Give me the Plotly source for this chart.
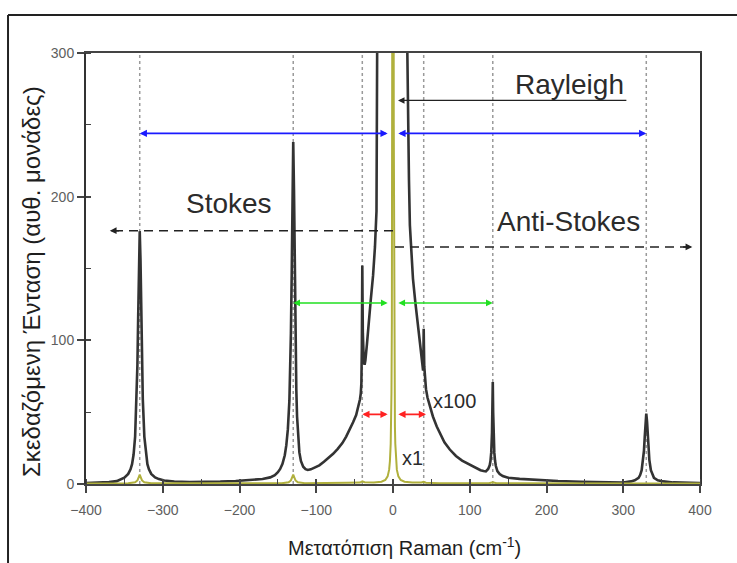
import plotly.graph_objects as go

# Raman spectrum drawn at x100 scale: (shift cm-1, intensity a.u.)
spectrum_x100 = [
    (-400, 0.7), (-385, 0.9), (-370, 1.3), (-360, 2.0), (-355, 3.0), (-350, 4.4),
    (-345, 7.0), (-342, 10.2), (-340, 13.8), (-338, 20.5), (-336, 33), (-334, 59),
    (-333, 83), (-332, 117), (-331, 156), (-330, 176), (-329, 156), (-328, 117),
    (-327, 83), (-326, 59), (-324, 33), (-322, 20.5), (-320, 13.8), (-318, 10.2),
    (-315, 7.0), (-310, 4.6), (-305, 3.4), (-298, 2.4), (-285, 1.7), (-265, 1.4),
    (-245, 1.4), (-225, 1.7), (-205, 2.1), (-185, 2.7), (-170, 3.5), (-160, 4.6),
    (-154, 6.2), (-150, 8.2), (-147, 10.5), (-144, 14), (-141, 20), (-139, 27),
    (-137, 38), (-135, 58), (-134, 76), (-133, 105), (-132, 145), (-131, 205),
    (-130, 238), (-129, 205), (-128, 140), (-127, 95), (-126, 66), (-125, 47),
    (-124, 35), (-122, 22), (-120, 16), (-117, 12), (-114, 10.3), (-111, 9.8),
    (-107, 10.2), (-102, 11.3), (-96, 13), (-90, 15.5), (-84, 18), (-78, 21),
    (-72, 24.5), (-66, 28.5), (-61, 33), (-56, 38), (-52, 43), (-48, 48),
    (-45, 54), (-43, 59), (-42, 63), (-41.2, 70), (-40.6, 95), (-40.3, 125),
    (-40, 152), (-39.7, 130), (-39.3, 105), (-38.8, 92), (-38, 85), (-37, 83),
    (-36, 86), (-34, 97), (-32, 112), (-29, 128), (-26, 145), (-23.5, 165),
    (-21.5, 190), (-20.3, 230), (-19.5, 280), (-19, 320), (-17.5, 420),
    (-15, 600), (-10, 1200), (0, 3000), (10, 1200), (15, 600), (17, 430),
    (18, 360), (18.7, 300), (19.5, 255), (20.8, 212), (22, 180), (24, 158),
    (26, 143), (29, 127), (32, 114), (35, 101), (37, 91), (38.3, 84), (39.2, 79),
    (39.6, 88), (39.8, 100), (40, 108), (40.3, 96), (40.7, 82), (41.5, 73),
    (43, 66), (45, 60), (48, 54), (52, 47), (57, 40), (62, 34), (67, 29),
    (74, 24), (82, 19.5), (90, 16.3), (100, 13.5), (108, 11.2), (114, 9.6),
    (118, 9.0), (121, 8.8), (124, 10.5), (126, 13), (127, 16), (128, 22),
    (129, 36), (129.5, 50), (130, 71), (130.5, 50), (131, 36), (132, 22),
    (133, 16), (134, 12.5), (136, 9), (139, 7), (143, 5.5), (150, 4.4),
    (165, 3.6), (187, 2.8), (215, 2.1), (245, 1.6), (275, 1.2), (300, 1.0),
    (310, 1.8), (315, 2.6), (320, 4.3), (322, 6.2), (324, 9.6), (326, 16.8),
    (327, 23.3), (328, 32.8), (329, 43.5), (330, 49), (331, 43.5), (332, 32.8),
    (333, 23.3), (334, 16.8), (336, 9.6), (338, 6.2), (340, 4.3), (345, 2.6),
    (352, 1.8), (365, 1.1), (380, 0.8), (400, 0.6),
]

# Same spectrum at x1 scale (Rayleigh line dominates)
spectrum_x1 = [
    (-400, 0.4), (-345, 0.5), (-336, 1.2), (-333, 2.5), (-331.5, 4.5), (-330, 6.5),
    (-328.5, 4.5), (-327, 2.5), (-324, 1.2), (-315, 0.5), (-145, 0.5), (-136, 1.2),
    (-133, 2.5), (-131.5, 4.5), (-130, 6.5), (-128.5, 4.5), (-127, 2.5),
    (-124, 1.2), (-115, 0.6), (-60, 0.8), (-43, 1.0), (-40, 1.8), (-37, 1.2),
    (-25, 1.0), (-15, 1.6), (-10, 2.8), (-7, 5.3), (-5, 10), (-4, 16), (-3, 28),
    (-2.5, 40), (-2, 63), (-1.5, 112), (-1.2, 175), (-1, 250), (-0.8, 390),
    (-0.5, 900), (0, 2800), (0.5, 900), (0.8, 390), (1, 250), (1.2, 175),
    (1.5, 112), (2, 63), (2.5, 40), (3, 28), (4, 16), (5, 10), (7, 5.3),
    (10, 2.8), (15, 1.6), (25, 1.0), (37, 1.0), (40, 1.5), (43, 0.9), (60, 0.6),
    (125, 0.5), (130, 1.2), (135, 0.5), (325, 0.4), (330, 0.9), (335, 0.4),
    (400, 0.3),
]

# Raman line positions (cm-1): Stokes (negative) and anti-Stokes (positive)
raman_lines = [-330, -130, -40, 40, 130, 330]

x_ticks = [-400, -300, -200, -100, 0, 100, 200, 300, 400]
y_ticks = [0, 100, 200, 300]
x_range = [-400, 400]
y_range = [0, 300]

FONT = "Liberation Sans, Arial, sans-serif"
TEXT = "#2b2b2b"

x100_x = [p[0] for p in spectrum_x100]
x100_y = [p[1] for p in spectrum_x100]
x1_x = [p[0] for p in spectrum_x1]
x1_y = [p[1] for p in spectrum_x1]

fig = go.Figure()

fig.add_trace(go.Scatter(
    x=x100_x, y=x100_y, mode="lines",
    line=dict(color="#333333", width=2.6), hoverinfo="skip", showlegend=False,
))
fig.add_trace(go.Scatter(
    x=x1_x, y=x1_y, mode="lines",
    line=dict(color="#b0b03c", width=2), hoverinfo="skip", showlegend=False,
))
# companion axes only used for inward tick marks
fig.add_trace(go.Scatter(x=[None], y=[None], xaxis="x2", yaxis="y2",
                         showlegend=False, hoverinfo="skip"))

shapes = []
for pos in raman_lines:
    shapes.append(dict(type="line", xref="x", yref="y", x0=pos, x1=pos,
                       y0=y_range[0], y1=y_range[1], layer="below",
                       line=dict(color="#9a9a9a", width=1.5, dash="dot")))

# dashed Stokes / anti-Stokes guides
stokes_y, anti_y = 176.3, 165
shapes.append(dict(type="line", xref="x", yref="y", x0=0, x1=-362,
                   y0=stokes_y, y1=stokes_y,
                   line=dict(color="#222222", width=1.6, dash="9px,6px")))
shapes.append(dict(type="line", xref="x", yref="y", x0=2.6, x1=383,
                   y0=anti_y, y1=anti_y,
                   line=dict(color="#222222", width=1.6, dash="9px,6px")))

# outer frame (top and left edges)
shapes.append(dict(type="line", xref="paper", yref="paper",
                   x0=-0.127, x1=1.08, y0=1.088, y1=1.088,
                   line=dict(color="#222222", width=2)))
shapes.append(dict(type="line", xref="paper", yref="paper",
                   x0=-0.127, x1=-0.127, y0=-0.2, y1=1.088,
                   line=dict(color="#222222", width=2)))

annotations = []


def arrow(x_head, x_tail, y, color, width, size=1.0, both=False, head=2):
    annotations.append(dict(
        x=x_head, y=y, ax=x_tail, ay=y, xref="x", yref="y", axref="x", ayref="y",
        text="", showarrow=True, arrowhead=head, startarrowhead=head,
        arrowside="end+start" if both else "end",
        arrowsize=size, startarrowsize=size, arrowwidth=width, arrowcolor=color,
    ))


blue_y, green_y, red_y = 244, 126, 48.5
gap = 5
arrow(raman_lines[0], -gap, blue_y, "#1a1aff", 1.8, 0.8, both=True)
arrow(raman_lines[5], gap, blue_y, "#1a1aff", 1.8, 0.8, both=True)
arrow(raman_lines[1], -gap, green_y, "#22e022", 1.5, 0.9, both=True)
arrow(raman_lines[4], gap, green_y, "#22e022", 1.5, 0.9, both=True)
arrow(raman_lines[2], -gap, red_y, "#ff2222", 1.8, 0.8, both=True)
arrow(raman_lines[3] + 3, gap, red_y, "#ff2222", 1.8, 0.8, both=True)

# arrowheads of the dashed guides
arrow(-369, -355, stokes_y, "#222222", 1.5, 0.9)
arrow(390, 376, anti_y, "#222222", 1.5, 0.9)
# Rayleigh pointer
arrow(6.5, 306, 267, "#222222", 1.3, 1.0)

labels = [
    ("Rayleigh", 230.6, 278, 28),
    ("Stokes", -214, 195, 28),
    ("Anti-Stokes", 229, 183, 28),
    ("x100", 79.5, 58, 20),
    ("x1", 26, 18, 20),
]
for txt, lx, ly, fs in labels:
    annotations.append(dict(x=lx, y=ly, xref="x", yref="y", text=txt,
                            xanchor="center", yanchor="middle", showarrow=False,
                            font=dict(family=FONT, size=fs, color=TEXT)))

annotations.append(dict(
    x=0.518, y=-0.146, xref="paper", yref="paper", showarrow=False,
    xanchor="center", yanchor="middle",
    text="Μετατόπιση Raman (cm<sup>-1</sup>)",
    font=dict(family=FONT, size=20, color="#1e1e1e"),
))
annotations.append(dict(
    x=-0.088, y=0.471, xref="paper", yref="paper", showarrow=False, textangle=-90,
    xanchor="center", yanchor="middle",
    text="Σκεδαζόμενη Ένταση (αυθ. μονάδες)",
    font=dict(family=FONT, size=24, color="#1e1e1e"),
))

axis_common = dict(showgrid=False, zeroline=False)
fig.update_layout(
    width=737, height=563, autosize=False,
    margin=dict(l=86, r=37, t=53, b=79),
    paper_bgcolor="white", plot_bgcolor="white",
    xaxis=dict(range=x_range, tickvals=x_ticks, showline=True, linecolor="#444444",
               linewidth=1.5, mirror=True, ticks="outside", ticklen=7, tickwidth=1.5,
               tickcolor="#444444", ticklabelstandoff=5,
               tickfont=dict(family=FONT, size=14, color="#5e5e5e"),
               minor=dict(ticks="inside", dtick=50, ticklen=5, tickwidth=1.2,
                          tickcolor="#444444"),
               **axis_common),
    yaxis=dict(range=y_range, tickvals=y_ticks, showline=True, linecolor="#333333",
               linewidth=2, mirror=True, ticks="outside", ticklen=7, tickwidth=1.5,
               tickcolor="#444444",
               tickfont=dict(family=FONT, size=14, color="#5e5e5e"),
               minor=dict(ticks="inside", dtick=50, ticklen=5, tickwidth=1.2,
                          tickcolor="#444444"),
               **axis_common),
    xaxis2=dict(range=x_range, overlaying="x", anchor="y", side="bottom",
                tickvals=x_ticks, ticks="inside", ticklen=5, tickwidth=1.5,
                tickcolor="#444444", showticklabels=False, showline=False,
                **axis_common),
    yaxis2=dict(range=y_range, overlaying="y", anchor="x", side="left",
                tickvals=y_ticks, ticks="inside", ticklen=5, tickwidth=1.5,
                tickcolor="#444444", showticklabels=False, showline=False,
                **axis_common),
    shapes=shapes,
    annotations=annotations,
)

fig.write_html("out.html")
